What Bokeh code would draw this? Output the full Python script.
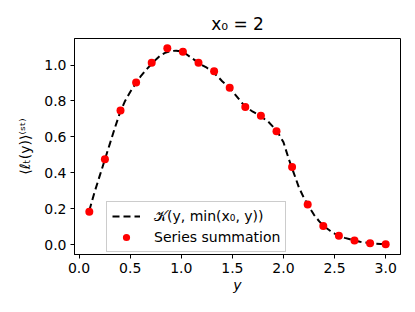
from bokeh.plotting import figure
from bokeh.models import Range1d, FixedTicker, Legend, LegendItem
from bokeh.embed import file_html
from bokeh.resources import INLINE

# Series summation points
pts_y = [0.1, 0.2526, 0.4053, 0.5579, 0.7105, 0.8632, 1.0158, 1.1684, 1.3211, 1.4737,
         1.6263, 1.7789, 1.9316, 2.0842, 2.2368, 2.3895, 2.5421, 2.6947, 2.8474, 3.0]
pts_val = [0.183, 0.475, 0.747, 0.903, 1.013, 1.093, 1.074, 1.013, 0.966, 0.873,
           0.767, 0.717, 0.631, 0.432, 0.224, 0.104, 0.050, 0.023, 0.008, 0.003]

# Curve K(y, min(x0, y))
curve_y = [0.1, 0.15, 0.2, 0.25, 0.3, 0.35, 0.4, 0.45, 0.5, 0.55, 0.6, 0.65, 0.7, 0.75,
           0.8, 0.85, 0.9, 0.95, 1.0, 1.05, 1.1, 1.15, 1.2, 1.25, 1.3, 1.35, 1.4, 1.45,
           1.5, 1.55, 1.6, 1.65, 1.7, 1.75, 1.8, 1.85, 1.9, 1.95, 2.0, 2.05, 2.1, 2.15,
           2.2, 2.25, 2.3, 2.35, 2.4, 2.45, 2.5, 2.55, 2.6, 2.65, 2.7, 2.75, 2.8, 2.85,
           2.9, 2.95, 3.0]
curve_val = [0.19, 0.29, 0.38, 0.47, 0.56, 0.65, 0.735, 0.80, 0.85, 0.895, 0.935, 0.97,
             1.0, 1.03, 1.055, 1.07, 1.078, 1.08, 1.075, 1.06, 1.04, 1.02, 1.0, 0.985,
             0.965, 0.94, 0.91, 0.885, 0.855, 0.82, 0.785, 0.76, 0.74, 0.725, 0.705,
             0.685, 0.655, 0.62, 0.57, 0.48, 0.40, 0.32, 0.26, 0.21, 0.165, 0.13, 0.10,
             0.08, 0.062, 0.048, 0.038, 0.03, 0.022, 0.016, 0.012, 0.008, 0.006, 0.004,
             0.003]

x_ticks = [0.0, 0.5, 1.0, 1.5, 2.0, 2.5, 3.0]
y_ticks = [0.0, 0.2, 0.4, 0.6, 0.8, 1.0]

FONT = "DejaVu Sans"

p = figure(width=407, height=304, output_backend="svg", toolbar_location=None,
           x_range=Range1d(-0.045, 3.145), y_range=Range1d(-0.0547, 1.1477),
           min_border_left=74, min_border_right=7, min_border_top=38, min_border_bottom=50,
           title="x₀ = 2")
p.title.align = "center"
p.title.text_font = FONT
p.title.text_font_size = "17px"
p.title.text_font_style = "normal"
p.title.text_color = "black"
p.title.standoff = 10

p.grid.visible = False
p.outline_line_color = "black"
p.outline_line_width = 1
p.background_fill_color = "white"
p.border_fill_color = "white"

for ax in (p.xaxis[0], p.yaxis[0]):
    ax.axis_line_color = "black"
    ax.major_tick_line_color = "black"
    ax.major_tick_out = 4
    ax.major_tick_in = 0
    ax.minor_tick_line_color = None
    ax.major_label_text_font = FONT
    ax.major_label_text_font_size = "14px"
    ax.major_label_text_color = "black"
    ax.major_label_standoff = 4
    ax.axis_label_text_font = FONT
    ax.axis_label_text_font_size = "14px"
    ax.axis_label_text_font_style = "normal"
    ax.axis_label_text_color = "black"

p.xaxis.ticker = FixedTicker(ticks=x_ticks)
p.yaxis.ticker = FixedTicker(ticks=y_ticks)
p.xaxis.major_label_overrides = {t: f"{t:.1f}" for t in x_ticks}
p.yaxis.major_label_overrides = {t: f"{t:.1f}" for t in y_ticks}
p.xaxis.axis_label = "y"
p.xaxis.axis_label_text_font_style = "italic"
p.xaxis.axis_label_standoff = 1
p.yaxis.axis_label = "⟨ℓₜ(y)⟩⁽ˢᵗ⁾"
p.yaxis.axis_label_standoff = 8

line = p.line(curve_y, curve_val, line_color="black", line_width=2, line_dash="7 4")
dots = p.scatter(pts_y, pts_val, size=8, fill_color="red", line_color=None, marker="circle")

legend = Legend(items=[LegendItem(label="𝒦(y, min(x₀, y))", renderers=[line]),
                       LegendItem(label="Series summation", renderers=[dots])],
                location=(32, 2))
legend.label_text_font = FONT
legend.label_text_font_size = "14px"
legend.label_text_color = "black"
legend.border_line_color = "#cccccc"
legend.border_line_alpha = 1
legend.background_fill_alpha = 0.8
legend.glyph_width = 28
legend.glyph_height = 18
legend.label_height = 18
legend.padding = 5
legend.spacing = 3
legend.margin = 0
legend.label_standoff = 14
p.add_layout(legend, "center")

open("out.html", "w").write(file_html(p, INLINE))
